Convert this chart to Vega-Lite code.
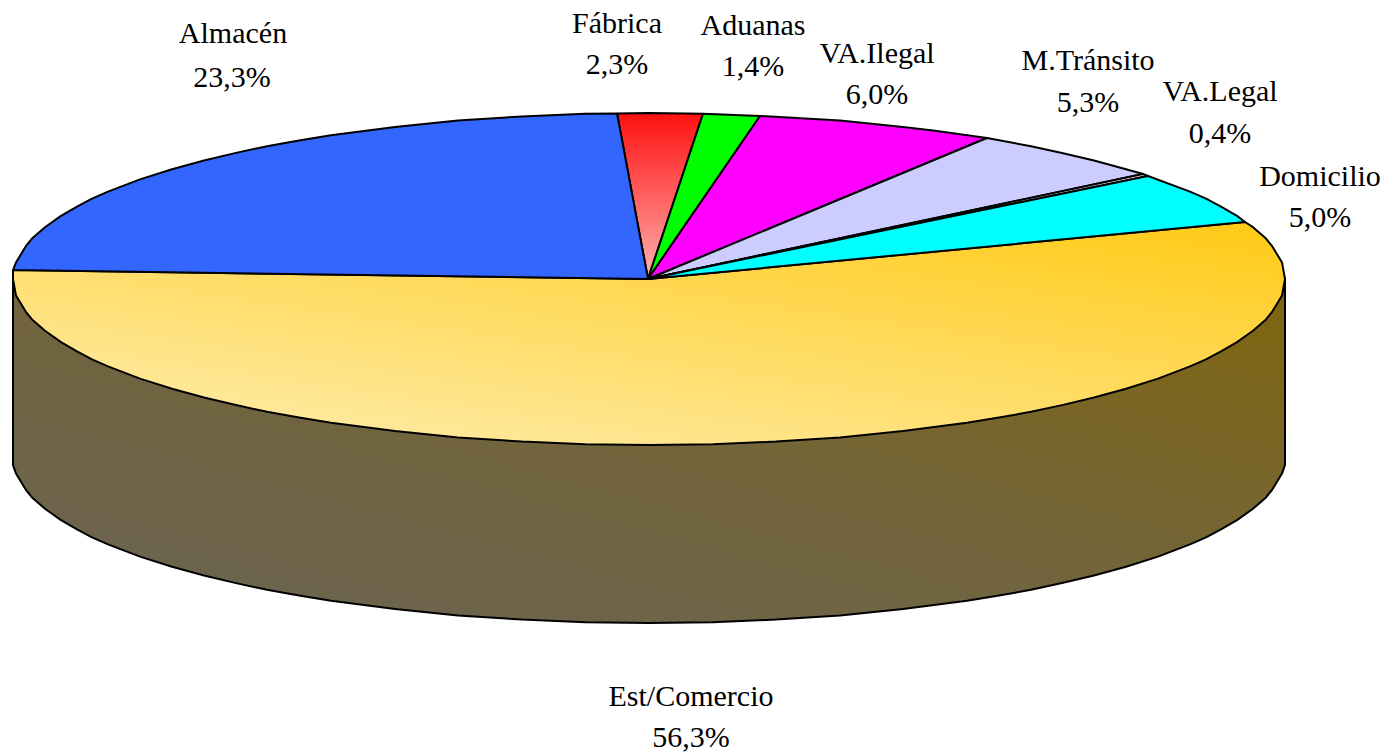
{
"$schema":"https://vega.github.io/schema/vega-lite/v6.json",
"width":1381,"height":753,"padding":0,"autosize":{"type":"none"},
"background":"white","view":{"stroke":null},
"datasets":{
"pie":[
{"part":"Wall","i":1,"x":13,"y":279},{"part":"Wall","i":2,"x":13,"y":465},{"part":"Wall","i":3,"x":16,"y":473.6},{"part":"Wall","i":4,"x":26,"y":490},{"part":"Wall","i":4.5,"x":32,"y":497.4},{"part":"Wall","i":5,"x":45,"y":508.8},{"part":"Wall","i":5.5,"x":61,"y":520.1},{"part":"Wall","i":6,"x":77,"y":529.4},{"part":"Wall","i":6.5,"x":92,"y":537.3},{"part":"Wall","i":7,"x":108,"y":544.4},{"part":"Wall","i":8,"x":140,"y":556.6},{"part":"Wall","i":8.5,"x":172,"y":566.8},{"part":"Wall","i":9,"x":204,"y":575.5},{"part":"Wall","i":9.5,"x":236,"y":583.1},{"part":"Wall","i":10,"x":267,"y":589.8},{"part":"Wall","i":10.5,"x":299,"y":595.6},{"part":"Wall","i":11,"x":331,"y":600.8},{"part":"Wall","i":12,"x":395,"y":609.1},{"part":"Wall","i":13,"x":458,"y":615.4},{"part":"Wall","i":14,"x":522,"y":619.6},{"part":"Wall","i":15,"x":585,"y":622.2},{"part":"Wall","i":16,"x":649,"y":623},{"part":"Wall","i":17,"x":713,"y":622.2},{"part":"Wall","i":18,"x":776,"y":619.6},{"part":"Wall","i":19,"x":840,"y":615.4},{"part":"Wall","i":20,"x":903,"y":609.1},{"part":"Wall","i":21,"x":967,"y":600.8},{"part":"Wall","i":21.5,"x":999,"y":595.6},{"part":"Wall","i":22,"x":1031,"y":589.8},{"part":"Wall","i":22.5,"x":1062,"y":583.1},{"part":"Wall","i":23,"x":1094,"y":575.5},{"part":"Wall","i":23.5,"x":1126,"y":566.8},{"part":"Wall","i":24,"x":1158,"y":556.6},{"part":"Wall","i":25,"x":1190,"y":544.4},{"part":"Wall","i":25.5,"x":1206,"y":537.3},{"part":"Wall","i":26,"x":1221,"y":529.4},{"part":"Wall","i":26.5,"x":1237,"y":520.1},{"part":"Wall","i":27,"x":1253,"y":508.8},{"part":"Wall","i":27.5,"x":1266,"y":497.4},{"part":"Wall","i":28,"x":1272,"y":490},{"part":"Wall","i":29,"x":1282,"y":473.6},{"part":"Wall","i":30,"x":1285,"y":465},{"part":"Wall","i":31,"x":1285,"y":279},{"part":"Wall","i":32,"x":13,"y":279},
{"part":"Est/Comercio","i":1,"x":13,"y":270},{"part":"Est/Comercio","i":2,"x":648,"y":279},{"part":"Est/Comercio","i":3,"x":1245,"y":222},{"part":"Est/Comercio","i":4,"x":1253,"y":227.2},{"part":"Est/Comercio","i":4.5,"x":1266,"y":238.6},{"part":"Est/Comercio","i":5,"x":1272,"y":246},{"part":"Est/Comercio","i":6,"x":1282,"y":262.4},{"part":"Est/Comercio","i":7,"x":1285,"y":279},{"part":"Est/Comercio","i":8,"x":1282,"y":295.6},{"part":"Est/Comercio","i":9,"x":1272,"y":312},{"part":"Est/Comercio","i":9.5,"x":1266,"y":319.4},{"part":"Est/Comercio","i":10,"x":1253,"y":330.8},{"part":"Est/Comercio","i":10.5,"x":1237,"y":342.1},{"part":"Est/Comercio","i":11,"x":1221,"y":351.4},{"part":"Est/Comercio","i":11.5,"x":1206,"y":359.3},{"part":"Est/Comercio","i":12,"x":1190,"y":366.4},{"part":"Est/Comercio","i":13,"x":1158,"y":378.6},{"part":"Est/Comercio","i":13.5,"x":1126,"y":388.8},{"part":"Est/Comercio","i":14,"x":1094,"y":397.5},{"part":"Est/Comercio","i":14.5,"x":1062,"y":405.1},{"part":"Est/Comercio","i":15,"x":1031,"y":411.8},{"part":"Est/Comercio","i":15.5,"x":999,"y":417.6},{"part":"Est/Comercio","i":16,"x":967,"y":422.8},{"part":"Est/Comercio","i":17,"x":903,"y":431.1},{"part":"Est/Comercio","i":18,"x":840,"y":437.4},{"part":"Est/Comercio","i":19,"x":776,"y":441.6},{"part":"Est/Comercio","i":20,"x":713,"y":444.2},{"part":"Est/Comercio","i":21,"x":649,"y":445},{"part":"Est/Comercio","i":22,"x":585,"y":444.2},{"part":"Est/Comercio","i":23,"x":522,"y":441.6},{"part":"Est/Comercio","i":24,"x":458,"y":437.4},{"part":"Est/Comercio","i":25,"x":395,"y":431.1},{"part":"Est/Comercio","i":26,"x":331,"y":422.8},{"part":"Est/Comercio","i":26.5,"x":299,"y":417.6},{"part":"Est/Comercio","i":27,"x":267,"y":411.8},{"part":"Est/Comercio","i":27.5,"x":236,"y":405.1},{"part":"Est/Comercio","i":28,"x":204,"y":397.5},{"part":"Est/Comercio","i":28.5,"x":172,"y":388.8},{"part":"Est/Comercio","i":29,"x":140,"y":378.6},{"part":"Est/Comercio","i":30,"x":108,"y":366.4},{"part":"Est/Comercio","i":30.5,"x":92,"y":359.3},{"part":"Est/Comercio","i":31,"x":77,"y":351.4},{"part":"Est/Comercio","i":31.5,"x":61,"y":342.1},{"part":"Est/Comercio","i":32,"x":45,"y":330.8},{"part":"Est/Comercio","i":32.5,"x":32,"y":319.4},{"part":"Est/Comercio","i":33,"x":26,"y":312},{"part":"Est/Comercio","i":34,"x":16,"y":295.6},{"part":"Est/Comercio","i":35,"x":13,"y":279},{"part":"Est/Comercio","i":36,"x":13,"y":270},
{"part":"Almacén","i":1,"x":13,"y":270},{"part":"Almacén","i":2,"x":16,"y":262.4},{"part":"Almacén","i":3,"x":26,"y":246},{"part":"Almacén","i":3.5,"x":32,"y":238.6},{"part":"Almacén","i":4,"x":45,"y":227.2},{"part":"Almacén","i":4.5,"x":61,"y":215.9},{"part":"Almacén","i":5,"x":77,"y":206.6},{"part":"Almacén","i":5.5,"x":92,"y":198.7},{"part":"Almacén","i":6,"x":108,"y":191.6},{"part":"Almacén","i":7,"x":140,"y":179.4},{"part":"Almacén","i":7.5,"x":172,"y":169.2},{"part":"Almacén","i":8,"x":204,"y":160.5},{"part":"Almacén","i":8.5,"x":236,"y":152.9},{"part":"Almacén","i":9,"x":267,"y":146.2},{"part":"Almacén","i":9.5,"x":299,"y":140.4},{"part":"Almacén","i":10,"x":331,"y":135.2},{"part":"Almacén","i":11,"x":395,"y":126.9},{"part":"Almacén","i":12,"x":458,"y":120.6},{"part":"Almacén","i":13,"x":522,"y":116.4},{"part":"Almacén","i":14,"x":585,"y":113.8},{"part":"Almacén","i":15,"x":617,"y":113.4},{"part":"Almacén","i":16,"x":648,"y":279},{"part":"Almacén","i":17,"x":13,"y":270},
{"part":"Fábrica","i":1,"x":617,"y":113.4},{"part":"Fábrica","i":2,"x":649,"y":113},{"part":"Fábrica","i":3,"x":703,"y":113.8},{"part":"Fábrica","i":4,"x":648,"y":279},{"part":"Fábrica","i":5,"x":617,"y":113.4},
{"part":"Aduanas","i":1,"x":703,"y":113.8},{"part":"Aduanas","i":2,"x":760,"y":116},{"part":"Aduanas","i":3,"x":648,"y":279},{"part":"Aduanas","i":4,"x":703,"y":113.8},
{"part":"VA.Ilegal","i":1,"x":760,"y":116},{"part":"VA.Ilegal","i":2,"x":840,"y":120.6},{"part":"VA.Ilegal","i":3,"x":903,"y":126.9},{"part":"VA.Ilegal","i":3.5,"x":935,"y":130.8},{"part":"VA.Ilegal","i":4,"x":987,"y":138},{"part":"VA.Ilegal","i":5,"x":648,"y":279},{"part":"VA.Ilegal","i":6,"x":760,"y":116},
{"part":"M.Tránsito","i":1,"x":987,"y":138},{"part":"M.Tránsito","i":2,"x":1031,"y":146.2},{"part":"M.Tránsito","i":2.5,"x":1062,"y":152.9},{"part":"M.Tránsito","i":3,"x":1094,"y":160.5},{"part":"M.Tránsito","i":3.5,"x":1126,"y":169.2},{"part":"M.Tránsito","i":4,"x":1143,"y":174},{"part":"M.Tránsito","i":5,"x":648,"y":279},{"part":"M.Tránsito","i":6,"x":987,"y":138},
{"part":"VA.Legal","i":1,"x":1143,"y":174},{"part":"VA.Legal","i":2,"x":1148,"y":176},{"part":"VA.Legal","i":3,"x":648,"y":279},{"part":"VA.Legal","i":4,"x":1143,"y":174},
{"part":"Domicilio","i":1,"x":1148,"y":176},{"part":"Domicilio","i":2,"x":1190,"y":191.6},{"part":"Domicilio","i":2.5,"x":1206,"y":198.7},{"part":"Domicilio","i":3,"x":1221,"y":206.6},{"part":"Domicilio","i":3.5,"x":1237,"y":215.9},{"part":"Domicilio","i":4,"x":1245,"y":222},{"part":"Domicilio","i":5,"x":648,"y":279},{"part":"Domicilio","i":6,"x":1148,"y":176}
],
"labels":[
{"text":"Almacén","x":233,"y":34},{"text":"23,3%","x":232,"y":78},
{"text":"Fábrica","x":617,"y":24},{"text":"2,3%","x":617,"y":65},
{"text":"Aduanas","x":753,"y":26},{"text":"1,4%","x":753,"y":67},
{"text":"VA.Ilegal","x":877,"y":54},{"text":"6,0%","x":877,"y":95},
{"text":"M.Tránsito","x":1088,"y":61},{"text":"5,3%","x":1088,"y":103},
{"text":"VA.Legal","x":1220,"y":92},{"text":"0,4%","x":1220,"y":134},
{"text":"Domicilio","x":1320,"y":177},{"text":"5,0%","x":1320,"y":218},
{"text":"Est/Comercio","x":691,"y":697},{"text":"56,3%","x":691,"y":738}
]},
"encoding":{
"x":{"field":"x","type":"quantitative","axis":null,"scale":{"domain":[0,1381],"nice":false,"zero":false}},
"y":{"field":"y","type":"quantitative","axis":null,"scale":{"domain":[753,0],"nice":false,"zero":false}}
},
"layer":[
{"data":{"name":"pie"},"transform":[{"filter":"datum.part==='Wall'"}],
"mark":{"type":"line","stroke":"#000","strokeWidth":2,"strokeJoin":"round","fill":{"gradient":"linear","x1":0.1,"y1":1,"x2":1,"y2":0.1,"stops":[{"offset":0,"color":"#6B6351"},{"offset":0.5,"color":"#72653C"},{"offset":1,"color":"#7F6512"}]}},
"encoding":{"order":{"field":"i","type":"quantitative"}}},
{"data":{"name":"pie"},"transform":[{"filter":"datum.part==='Est/Comercio'"}],
"mark":{"type":"line","stroke":"#000","strokeWidth":2,"strokeJoin":"round","fill":{"gradient":"linear","x1":1,"y1":0,"x2":0.25,"y2":0.9,"stops":[{"offset":0,"color":"#FFCA14"},{"offset":1,"color":"#FFE899"}]}},
"encoding":{"order":{"field":"i","type":"quantitative"}}},
{"data":{"name":"pie"},"transform":[{"filter":"datum.part==='Fábrica'"}],
"mark":{"type":"line","stroke":"#000","strokeWidth":2,"strokeJoin":"round","fill":{"gradient":"linear","x1":0,"y1":0,"x2":0,"y2":1,"stops":[{"offset":0,"color":"#FF1010"},{"offset":1,"color":"#FFB0B0"}]}},
"encoding":{"order":{"field":"i","type":"quantitative"}}},
{"data":{"name":"pie"},"transform":[{"filter":"indexof(['Almacén','Aduanas','VA.Ilegal','M.Tránsito','VA.Legal','Domicilio'],datum.part)>=0"}],
"mark":{"type":"line","stroke":"#000","strokeWidth":2,"strokeJoin":"round"},
"encoding":{"order":{"field":"i","type":"quantitative"},"detail":{"field":"part"},
"fill":{"field":"part","type":"nominal","legend":null,"scale":{"domain":["Almacén","Aduanas","VA.Ilegal","M.Tránsito","VA.Legal","Domicilio"],"range":["#3366FF","#00FF00","#FF00FF","#CCCCFF","#E6E6FF","#00FFFF"]}}}},
{"data":{"name":"labels"},
"mark":{"type":"text","font":"Liberation Serif","fontSize":30,"color":"#000","align":"center","baseline":"middle"},
"encoding":{"text":{"field":"text","type":"nominal"}}}
]
}
